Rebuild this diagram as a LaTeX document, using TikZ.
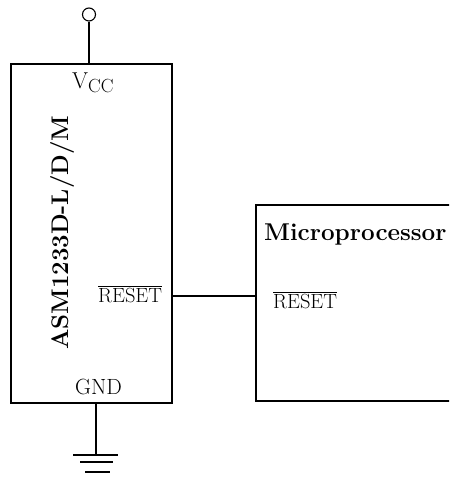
\documentclass[tikz,border=0pt]{standalone}
\usepackage{tikz}

\tikzset{
  box/.style={draw, line width=1.1pt, inner sep=0pt},
  wire/.style={line width=1.1pt},
  pinlabel/.style={inner sep=0pt, font=\fontsize{20.5}{20.5}\selectfont},
  partname/.style={inner sep=0pt, font=\fontsize{24}{24}\selectfont\bfseries}
}

\begin{document}
\begin{tikzpicture}[x=1pt, y=-1pt]%
   \useasboundingbox (0,0) rectangle (449,478);
   \clip (0,0) rectangle (449,478);
   % supervisor chip and microprocessor
   \node[box, minimum width=161pt, minimum height=339pt] (chip) at (91.5,233.5) {};
   \node[box, minimum width=214pt, minimum height=196pt] (mcu) at (363,303) {};
   % pin labels
   \node[pinlabel, font=\fontsize{23}{23}\selectfont, anchor=base west] (vcclbl) at (72,89)
      {V\raisebox{-0.35ex}{\fontsize{19}{19}\selectfont CC}};
   \node[pinlabel, anchor=base west] (rstA) at (98,302) {$\overline{\mbox{RESET}}$};
   \node[pinlabel, anchor=base west] (rstB) at (273,308) {$\overline{\mbox{RESET}}$};
   \node[pinlabel, font=\fontsize{22}{22}\selectfont, anchor=base west] (gndlbl) at (75,394) {GND};
   \node[partname, rotate=90, anchor=base west] (chipname) at (68,350) {ASM1233D-L/D/M};
   \node[partname, font=\fontsize{24.3}{24.3}\selectfont\bfseries, anchor=base west] (mcuname) at (264,240) {Microprocessor};
   % supply terminal and ground
   \node[draw, circle, line width=1.1pt, minimum size=13pt, inner sep=0pt] (vccpin) at (89,14.5) {};
   \coordinate (gnd) at (96,455);
   \draw[wire] (vccpin) -- (vccpin |- chip.north);
   \draw[wire] (gnd |- chip.south) -- (gnd);
   \draw[wire] (gnd) ++(-23,0) -- ++(45,0);
   \draw[wire] (gnd) ++(-16,7) -- ++(33,0);
   \draw[wire] (gnd) ++(-11,17) -- ++(25,0);
   % reset line
   \coordinate (rst) at (0,296);
   \draw[wire] (chip.east |- rst) -- (mcu.west |- rst);
\end{tikzpicture}
\end{document}
